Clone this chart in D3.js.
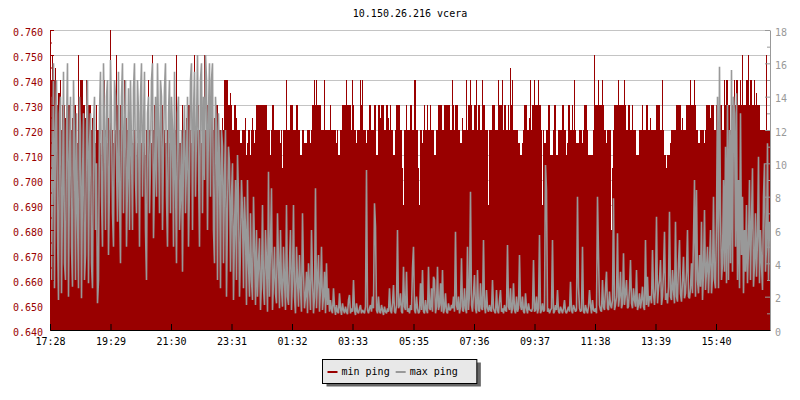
<!DOCTYPE html>
<html>
<head>
<meta charset="utf-8">
<script src="https://cdn.jsdelivr.net/npm/d3@7"></script>
<style>
  body { margin: 0; background: #fff; }
  svg text { font-family: "DejaVu Sans Mono", monospace; font-size: 10px; }
</style>
</head>
<body>
<div id="chart"></div>
<script>
const chartTitle = '10.150.26.216 vcera';
const seriesNames = ['min ping', 'max ping'];
const startLabel = '17:28';
const spanMinutes = 1440;
const sampleMinutes = 2;
const timeLabels = ['17:28', '19:29', '21:30', '23:31', '01:32', '03:33',
    '05:35', '07:36', '09:37', '11:38', '13:39', '15:40'];

// min ping, ms (left axis), one value per 2 minutes
const minPing = [
    0.74,0.74, 0.75,0.74, 0.74,0.745, 0.74,0.73, 0.735,0.735, 0.74,0.72, 0.73,0.73, 0.73,0.725, 0.72,0.71, 0.73,0.73, 0.72,0.72, 0.725,0.72, 0.73,0.73, 0.72,0.715, 0.75,0.73, 0.74,0.74, 0.74,0.73, 0.73,0.725, 0.74,0.72,
    0.73,0.73, 0.73,0.72, 0.725,0.725, 0.72,0.715, 0.73,0.72, 0.72,0.72, 0.715,0.71, 0.72,0.72, 0.74,0.72, 0.72,0.715, 0.725,0.72, 0.76,0.72, 0.72,0.715, 0.74,0.72, 0.75,0.73, 0.72,0.72, 0.73,0.72, 0.72,0.715, 0.74,0.72, 0.725,0.72,
    0.72,0.72, 0.73,0.72, 0.715,0.715, 0.72,0.71, 0.71,0.715, 0.72,0.72, 0.715,0.715, 0.72,0.72, 0.715,0.71, 0.72,0.72, 0.74,0.72, 0.72,0.715, 0.75,0.72, 0.73,0.72, 0.72,0.72, 0.715,0.715, 0.72,0.72, 0.73,0.72, 0.72,0.715, 0.715,0.72,
    0.715,0.715, 0.72,0.72, 0.71,0.715, 0.715,0.72, 0.75,0.72, 0.72,0.715, 0.715,0.72, 0.73,0.72, 0.72,0.72, 0.725,0.72, 0.73,0.73, 0.72,0.715, 0.715,0.72, 0.75,0.72, 0.72,0.72, 0.73,0.72, 0.72,0.715, 0.715,0.72, 0.75,0.72, 0.72,0.73,
    0.73,0.73, 0.73,0.73, 0.73,0.72, 0.725,0.725, 0.73,0.73, 0.72,0.72, 0.72,0.715, 0.725,0.72, 0.74,0.74, 0.74,0.74, 0.73,0.73, 0.735,0.73, 0.72,0.72, 0.73,0.73, 0.725,0.72, 0.72,0.72, 0.715,0.715, 0.72,0.72, 0.72,0.725, 0.71,0.715,
    0.72,0.72, 0.71,0.72, 0.725,0.72, 0.715,0.72, 0.73,0.73, 0.73,0.73, 0.73,0.73, 0.73,0.73, 0.73,0.73, 0.73,0.72, 0.72,0.72, 0.71,0.72, 0.73,0.73, 0.72,0.72, 0.72,0.72, 0.72,0.72, 0.715,0.72, 0.705,0.72, 0.72,0.72, 0.74,0.72,
    0.72,0.72, 0.73,0.73, 0.73,0.72, 0.72,0.72, 0.73,0.73, 0.72,0.72, 0.71,0.71, 0.72,0.72, 0.715,0.715, 0.715,0.72, 0.72,0.72, 0.715,0.72, 0.73,0.73, 0.74,0.73, 0.74,0.73, 0.73,0.73, 0.73,0.72, 0.72,0.72, 0.74,0.72, 0.72,0.72,
    0.72,0.72, 0.73,0.72, 0.72,0.72, 0.72,0.72, 0.715,0.72, 0.71,0.71, 0.72,0.72, 0.73,0.73, 0.73,0.73, 0.74,0.73, 0.73,0.73, 0.73,0.72, 0.74,0.73, 0.72,0.72, 0.715,0.72, 0.72,0.72, 0.74,0.73, 0.74,0.72, 0.72,0.72, 0.715,0.72,
    0.72,0.73, 0.73,0.72, 0.72,0.72, 0.73,0.73, 0.71,0.71, 0.73,0.73, 0.725,0.73, 0.73,0.73, 0.72,0.72, 0.73,0.73, 0.725,0.72, 0.73,0.72, 0.72,0.71, 0.71,0.72, 0.73,0.73, 0.73,0.73, 0.72,0.72, 0.705,0.69, 0.72,0.72, 0.73,0.72,
    0.72,0.72, 0.73,0.73, 0.72,0.72, 0.74,0.74, 0.72,0.72, 0.705,0.69, 0.72,0.72, 0.715,0.72, 0.73,0.72, 0.72,0.73, 0.72,0.72, 0.73,0.72, 0.72,0.72, 0.71,0.71, 0.72,0.72, 0.73,0.73, 0.73,0.73, 0.72,0.72, 0.73,0.73, 0.73,0.73,
    0.73,0.73, 0.72,0.72, 0.74,0.73, 0.72,0.73, 0.73,0.73, 0.72,0.72, 0.715,0.715, 0.725,0.72, 0.72,0.72, 0.74,0.72, 0.73,0.73, 0.74,0.73, 0.72,0.72, 0.73,0.73, 0.74,0.72, 0.73,0.73, 0.72,0.72, 0.74,0.73, 0.73,0.72, 0.72,0.72,
    0.69,0.72, 0.72,0.72, 0.73,0.73, 0.73,0.72, 0.72,0.72, 0.74,0.73, 0.73,0.73, 0.74,0.72, 0.73,0.73, 0.72,0.72, 0.73,0.72, 0.745,0.73, 0.74,0.72, 0.72,0.72, 0.72,0.72, 0.715,0.715, 0.71,0.71, 0.715,0.72, 0.73,0.73, 0.73,0.72,
    0.72,0.725, 0.74,0.72, 0.73,0.73, 0.74,0.73, 0.73,0.73, 0.74,0.73, 0.73,0.72, 0.69,0.72, 0.715,0.715, 0.72,0.72, 0.73,0.73, 0.71,0.71, 0.71,0.72, 0.73,0.73, 0.71,0.71, 0.72,0.72, 0.72,0.72, 0.73,0.73, 0.72,0.72, 0.71,0.715,
    0.73,0.73, 0.72,0.72, 0.73,0.72, 0.74,0.72, 0.715,0.715, 0.715,0.72, 0.72,0.72, 0.715,0.72, 0.73,0.73, 0.73,0.72, 0.71,0.71, 0.71,0.71, 0.71,0.72, 0.75,0.73, 0.73,0.73, 0.74,0.73, 0.73,0.73, 0.74,0.73, 0.72,0.72, 0.715,0.72,
    0.72,0.72, 0.72,0.68, 0.705,0.72, 0.73,0.73, 0.73,0.73, 0.74,0.73, 0.73,0.73, 0.73,0.73, 0.74,0.73, 0.72,0.72, 0.73,0.73, 0.72,0.72, 0.73,0.72, 0.72,0.72, 0.71,0.71, 0.71,0.72, 0.72,0.72, 0.73,0.72, 0.72,0.72, 0.73,0.73,
    0.72,0.72, 0.725,0.72, 0.72,0.72, 0.72,0.72, 0.73,0.73, 0.73,0.73, 0.72,0.72, 0.74,0.72, 0.71,0.71, 0.705,0.71, 0.71,0.71, 0.715,0.72, 0.72,0.72, 0.72,0.72, 0.73,0.73, 0.73,0.73, 0.73,0.72, 0.725,0.72, 0.72,0.72, 0.73,0.73,
    0.73,0.73, 0.74,0.73, 0.73,0.73, 0.74,0.73, 0.72,0.72, 0.715,0.715, 0.72,0.72, 0.72,0.72, 0.715,0.72, 0.73,0.73, 0.73,0.73, 0.725,0.73, 0.73,0.73, 0.72,0.72, 0.73,0.73, 0.72,0.72, 0.73,0.73, 0.72,0.72, 0.74,0.73, 0.74,0.74,
    0.73,0.73, 0.72,0.72, 0.73,0.73, 0.74,0.73, 0.74,0.74, 0.73,0.73, 0.74,0.73, 0.75,0.73, 0.73,0.73, 0.74,0.74, 0.75,0.73, 0.74,0.74, 0.73,0.73, 0.74,0.73, 0.735,0.73, 0.73,0.73, 0.72,0.72, 0.72,0.72, 0.72,0.72, 0.75,0.72
];

// max ping, ms (right axis), same sampling
const maxPing = [
    14, 3, 9, 16, 2.5, 12, 15, 6, 1.8, 13, 14, 2.2, 8, 15.5, 4, 3, 12, 16, 2, 10, 14, 5, 2.6, 15, 11, 3, 13, 7, 2.5, 14, 12, 1.9, 9, 13, 3, 4.5, 12, 15, 2.8, 11,
    13, 4, 2.5, 12, 14, 6, 10, 1.6, 3, 13, 15.5, 8, 5, 16, 12, 6, 14, 15, 4.5, 9, 16.2, 13, 7, 5, 15, 14, 10, 6.5, 15.5, 8, 4, 14, 16, 7, 12, 15, 5, 9, 14.5, 6,
    15, 11, 6, 14.5, 16, 9, 7, 15, 13, 5, 14, 16, 8, 12, 15.5, 6, 3, 13, 14, 7, 10, 15, 16, 5.5, 9, 14, 8, 16, 12, 7, 15, 14, 6, 11, 14.5, 16, 8, 5, 13, 15,
    7, 14, 12, 5, 15.5, 9, 4, 13, 14, 6, 8, 12, 3.5, 11, 13.5, 7, 10, 14, 5, 9, 15, 16, 6, 13, 15.5, 8, 12, 16.5, 10, 5, 15, 16, 7, 14, 9, 16.5, 15, 6, 13, 16,
    8, 15, 16, 6, 4, 14, 12, 3, 13, 10, 2.5, 12, 11, 4, 9, 12, 2, 7, 11, 10, 3.5, 8, 10, 1.8, 6, 9, 3, 10.5, 8, 2, 5, 9, 7, 2.5, 8, 6, 1.5, 9, 4, 2,
    7, 3, 1.8, 8, 5, 1.5, 6, 2, 4, 5.5, 1.2, 3, 7.5, 2.5, 1.5, 6, 4, 1.1, 9.5, 2, 5, 8.5, 1.2, 3, 5, 2.2, 1.6, 7, 4, 1.3, 6, 2.5, 1.4, 5, 3, 1.2, 7.5, 2, 1.5, 4,
    6, 1.2, 3, 7.5, 2, 1.0, 5, 3, 1.4, 4.5, 2.5, 1.1, 7, 3.5, 1.3, 2, 3.5, 1.0, 4, 2.5, 1.2, 6, 3, 1.0, 2, 8.5, 1.3, 3, 4.5, 1.1, 2.5, 5, 1.2, 2, 3.5, 1.0, 4, 1.5, 2.5, 1.1,
    1.8, 1.2, 1.0, 2.5, 1.4, 0.9, 1.5, 1.1, 1.0, 2.2, 1.3, 0.9, 1.6, 1.2, 1.0, 1.4, 1.1, 0.95, 1.8, 2.1, 1.0, 1.3, 1.1, 3.0, 1.2, 0.9, 1.6, 1.1, 1.0, 1.3, 1.5, 1.0, 1.2, 1.1, 1.0, 1.4, 9.6, 1.2, 1.0, 1.3,
    1.5, 1.1, 2.0, 1.3, 7.6, 6.2, 1.2, 1.0, 2.0, 1.1, 1.0, 1.5, 1.2, 0.9, 1.4, 1.1, 1.0, 1.3, 1.1, 2.5, 1.2, 1.0, 1.6, 2.7, 1.1, 1.0, 1.5, 6.0, 1.3, 1.5, 2.2, 1.1, 1.0, 3.8, 1.4, 1.2, 3.5, 1.1, 1.3, 1.0,
    1.5, 1.2, 3.7, 5.0, 1.2, 1.0, 2.0, 1.3, 1.0, 1.1, 2.8, 1.2, 3.6, 1.1, 1.0, 1.8, 1.2, 1.0, 3.8, 1.3, 1.2, 2.5, 1.1, 3.2, 3.0, 1.0, 1.4, 3.8, 1.2, 1.5, 2.8, 1.1, 3.6, 1.0, 1.3, 2.2, 1.1, 1.0, 1.6, 1.2,
    1.2, 1.5, 1.3, 2.0, 1.1, 5.9, 1.5, 1.2, 2.0, 1.0, 1.4, 4.3, 1.2, 1.1, 2.5, 1.3, 1.0, 5.0, 1.2, 2.2, 8.3, 1.5, 1.1, 2.2, 3.3, 1.3, 1.0, 3.6, 1.2, 1.1, 2.8, 1.3, 1.2, 5.4, 1.4, 1.0, 2.4, 1.3, 1.1, 1.5,
    1.2, 1.1, 3.0, 1.3, 1.1, 1.0, 2.4, 1.2, 1.0, 1.8, 2.4, 1.1, 1.3, 1.0, 1.5, 1.2, 1.1, 5.1, 1.4, 1.2, 2.5, 1.0, 1.3, 2.8, 1.2, 1.0, 2.0, 1.1, 1.3, 4.5, 1.5, 1.2, 2.0, 1.1, 1.0, 2.2, 1.3, 1.0, 1.6, 1.2,
    1.2, 1.1, 1.3, 4.2, 1.1, 1.2, 2.0, 1.0, 1.3, 5.7, 1.0, 1.2, 1.6, 1.1, 1.2, 9.9, 8.4, 1.1, 1.3, 1.0, 1.2, 1.3, 5.4, 1.0, 1.1, 1.5, 1.2, 2.4, 1.1, 1.0, 1.4, 1.2, 1.0, 1.3, 1.8, 1.1, 1.0, 1.2, 1.4, 1.1,
    2.9, 1.2, 1.0, 1.5, 1.3, 1.1, 1.2, 8.0, 2.6, 1.3, 1.1, 1.2, 5.0, 1.1, 1.0, 1.5, 1.2, 1.0, 1.4, 2.4, 1.5, 1.0, 1.8, 1.2, 1.1, 1.3, 1.0, 8.0, 4.5, 1.5, 1.2, 1.1, 3.0, 1.4, 1.2, 2.5, 3.5, 1.3, 1.2, 2.3,
    1.5, 1.3, 1.8, 7.9, 1.2, 1.5, 2.0, 5.8, 1.4, 2.0, 3.5, 1.3, 1.6, 4.6, 1.5, 2.2, 3.0, 1.3, 1.4, 2.5, 4.2, 1.6, 1.3, 2.5, 1.8, 1.4, 3.6, 1.2, 1.5, 2.2, 1.3, 1.8, 2.6, 1.4, 1.2, 5.4, 1.5, 3.2, 1.4, 2.0,
    2.0, 1.6, 4.8, 2.2, 1.5, 2.5, 6.8, 1.6, 2.5, 3.0, 4.2, 1.5, 2.0, 3.5, 5.9, 1.8, 2.2, 1.6, 2.6, 7.1, 2.0, 1.8, 3.6, 2.4, 1.6, 6.5, 2.0, 1.7, 4.0, 5.4, 2.2, 1.7, 3.0, 4.4, 1.9, 2.2, 3.5, 6.0, 2.0, 1.9,
    2.5, 4.0, 2.2, 5.5, 9.0, 2.0, 8.4, 3.0, 2.2, 4.5, 2.6, 6.5, 1.8, 3.5, 7.2, 2.4, 3.6, 5.0, 2.2, 4.0, 6.0, 2.2, 3.2, 8.0, 3.0, 2.5, 6.5, 14.0, 2.5, 15.8, 7.0, 3.0, 4.0, 9.0, 3.5, 11.0, 2.8, 13.5, 3.0, 12.0,
    4.0, 15.6, 3.5, 14.0, 13.0, 5.0, 14.2, 3.0, 9.0, 2.5, 13.0, 4.5, 8.0, 2.2, 6.0, 3.5, 7.5, 2.8, 5.0, 9.0, 3.0, 6.5, 9.7, 2.6, 4.0, 7.0, 3.2, 5.5, 10.4, 2.8, 6.0, 4.0, 2.4, 8.0, 10.0, 3.5, 5.0, 11.2, 3.0, 6.5
];

const leftDomain = [0.64, 0.76];
const rightDomain = [0, 18];

const RED = '#990000';
const GREY = '#999999';
const width = 800, height = 400;
const plot = {left: 50, right: 770, top: 30, bottom: 330};

const parseClock = d3.timeParse('%H:%M');
const start = parseClock(startLabel);
const end = d3.timeMinute.offset(start, spanMinutes);

function labelToDate(label) {
    const d = parseClock(label);
    return d < start ? d3.timeDay.offset(d, 1) : d;
}

const x = d3.scaleTime().domain([start, end]).range([plot.left, plot.right]);
const yLeft = d3.scaleLinear().domain(leftDomain).range([plot.bottom, plot.top]);
const yRight = d3.scaleLinear().domain(rightDomain).range([plot.bottom, plot.top]);

function toPoints(values) {
    return values.map((v, i) => ({t: d3.timeMinute.offset(start, i * sampleMinutes), v}));
}

const svg = d3.select('#chart').append('svg')
    .attr('width', width)
    .attr('height', height);

svg.append('defs').append('clipPath').attr('id', 'plot-clip')
    .append('rect')
    .attr('x', plot.left).attr('y', plot.top)
    .attr('width', plot.right - plot.left).attr('height', plot.bottom - plot.top);

// title
svg.append('text')
    .attr('x', (plot.left + plot.right) / 2)
    .attr('y', 17)
    .attr('text-anchor', 'middle')
    .attr('fill', '#000')
    .text(chartTitle);

// grid
svg.append('g').attr('class', 'grid')
    .selectAll('line')
    .data(yLeft.ticks(12))
    .join('line')
    .attr('x1', plot.left).attr('x2', plot.right)
    .attr('y1', d => Math.round(yLeft(d)) + 0.5)
    .attr('y2', d => Math.round(yLeft(d)) + 0.5)
    .attr('stroke', '#c4c4c4')
    .attr('shape-rendering', 'crispEdges');

const plotArea = svg.append('g').attr('clip-path', 'url(#plot-clip)');

// min ping: filled steps; last step carried to the right edge
const minPoints = toPoints(minPing);
minPoints.push({t: end, v: minPing[minPing.length - 1]});
plotArea.append('path')
    .datum(minPoints)
    .attr('fill', RED)
    .attr('shape-rendering', 'crispEdges')
    .attr('d', d3.area()
        .curve(d3.curveStepAfter)
        .x(d => x(d.t))
        .y0(plot.bottom)
        .y1(d => yLeft(d.v)));

// max ping: plain jagged line on the right scale
plotArea.append('path')
    .datum(toPoints(maxPing))
    .attr('fill', 'none')
    .attr('stroke', GREY)
    .attr('stroke-width', 1.6)
    .attr('stroke-linejoin', 'miter')
    .attr('stroke-miterlimit', 1)
    .attr('d', d3.line()
        .x(d => x(d.t) + 0.5)
        .y(d => yRight(d.v)));

// left axis
const leftAxis = svg.append('g')
    .attr('transform', `translate(${plot.left},0)`)
    .call(d3.axisLeft(yLeft).ticks(12).tickFormat(d3.format('.3f'))
        .tickSizeInner(-4).tickSizeOuter(0).tickPadding(7));
leftAxis.select('.domain').attr('stroke', RED);
leftAxis.selectAll('line').attr('stroke', RED);
leftAxis.selectAll('text').attr('fill', RED).attr('dy', '0.5em')
    .style('font-family', '"DejaVu Sans Mono", monospace').style('font-size', '10px');

svg.append('g')
    .attr('transform', `translate(${plot.left},0)`)
    .call(d3.axisLeft(yLeft).tickValues(yLeft.ticks(24).filter((d, i) => i % 2 === 1))
        .tickFormat('').tickSizeInner(-2).tickSizeOuter(0))
    .call(g => g.select('.domain').remove())
    .call(g => g.selectAll('line').attr('stroke', RED));

// right axis
const rightAxis = svg.append('g')
    .attr('transform', `translate(${plot.right},0)`)
    .call(d3.axisRight(yRight).ticks(9).tickFormat(d3.format('d'))
        .tickSizeInner(-5).tickSizeOuter(0).tickPadding(5));
rightAxis.select('.domain').attr('stroke', GREY);
rightAxis.selectAll('line').attr('stroke', GREY);
rightAxis.selectAll('text').attr('fill', GREY).attr('dy', '0.5em')
    .style('font-family', '"DejaVu Sans Mono", monospace').style('font-size', '10px');

svg.append('g')
    .attr('transform', `translate(${plot.right},0)`)
    .call(d3.axisRight(yRight).tickValues(yRight.ticks(18).filter(d => d % 2 === 1))
        .tickFormat('').tickSizeInner(-3).tickSizeOuter(0))
    .call(g => g.select('.domain').remove())
    .call(g => g.selectAll('line').attr('stroke', GREY));

// bottom axis
const bottomAxis = svg.append('g')
    .attr('transform', `translate(0,${plot.bottom})`)
    .call(d3.axisBottom(x).tickValues(timeLabels.map(labelToDate))
        .tickFormat(d3.timeFormat('%H:%M'))
        .tickSizeInner(-6).tickSizeOuter(0).tickPadding(8));
bottomAxis.select('.domain').attr('stroke', '#000');
bottomAxis.selectAll('line').attr('stroke', '#000');
bottomAxis.selectAll('text').attr('fill', '#000')
    .style('font-family', '"DejaVu Sans Mono", monospace').style('font-size', '10px');

// legend
const legendColors = [RED, GREY];
const legend = svg.append('g').attr('transform', 'translate(322.5,359.5)');
const legendShadow = legend.append('rect').attr('x', 4).attr('y', 3).attr('height', 24).attr('fill', '#666');
const legendBox = legend.append('rect').attr('height', 24).attr('fill', '#e8e8e8').attr('stroke', '#000');

let cursor = 5;
seriesNames.forEach((name, i) => {
    legend.append('line')
        .attr('x1', cursor).attr('x2', cursor + 10)
        .attr('y1', 12.5).attr('y2', 12.5)
        .attr('stroke', legendColors[i])
        .attr('stroke-width', 2);
    const label = legend.append('text')
        .attr('x', cursor + 14)
        .attr('y', 12)
        .attr('dy', '0.35em')
        .attr('fill', '#000')
        .text(name);
    cursor += 14 + label.node().getComputedTextLength() + 6;
});
const legendWidth = cursor + 13;
legendShadow.attr('width', legendWidth);
legendBox.attr('width', legendWidth);
</script>
</body>
</html>
